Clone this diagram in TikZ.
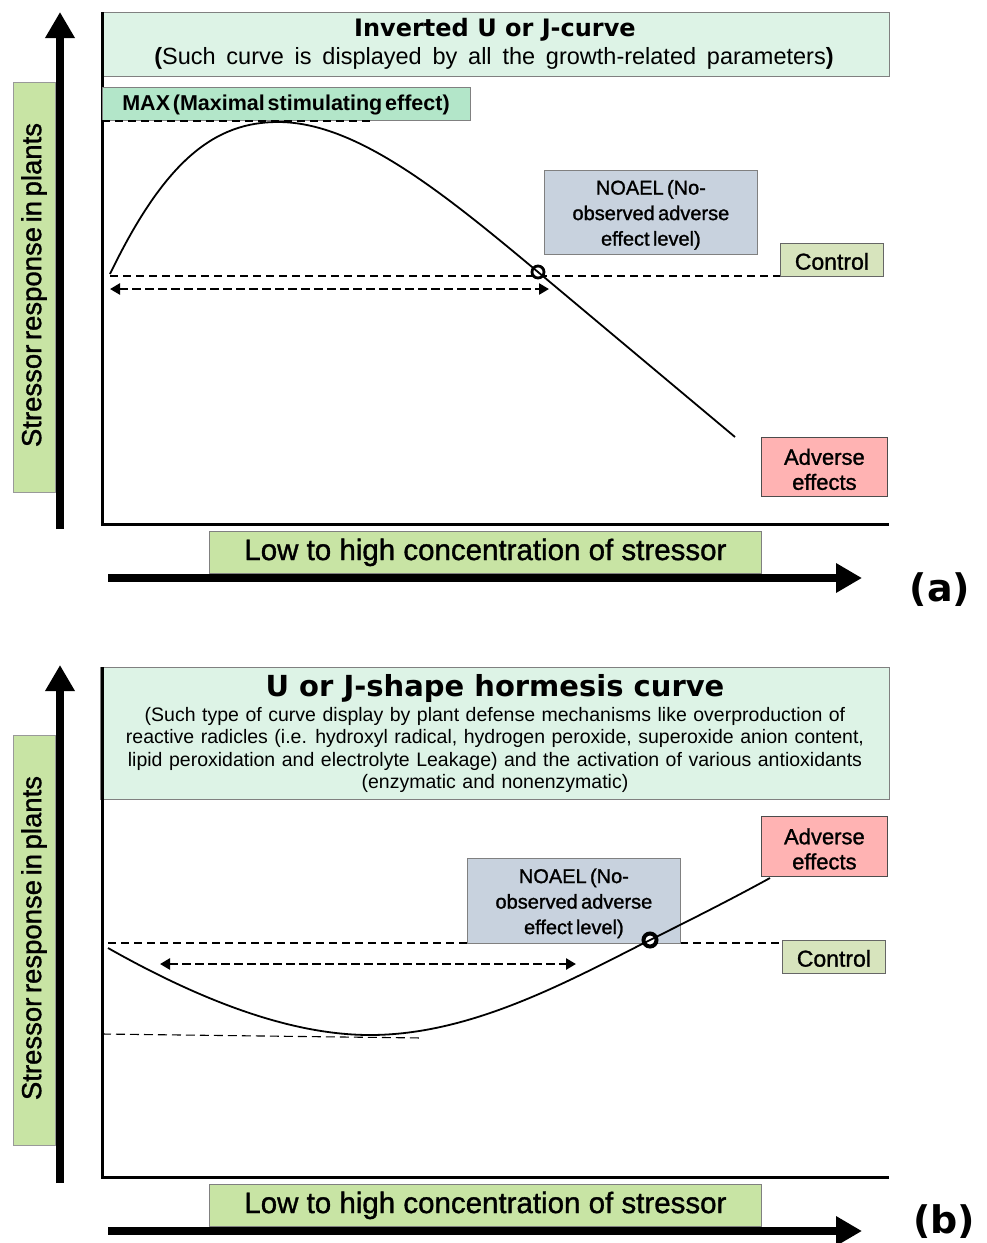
\documentclass[tikz,border=0pt]{standalone}
\usepackage{fontspec}
\setmainfont{Liberation Sans}
\newfontfamily\lblfont[FakeBold=1.2]{Liberation Sans}
\newfontfamily\heavyfont{DejaVu Sans}
\newcommand\setsp[1]{\spaceskip=#1em\relax}
\newcommand\spTight{\setsp{0.167}}
\newcommand\spMax{\setsp{0.13}}
\newcommand\spWide{\setsp{0.46}}
\newcommand\spBody{\setsp{0.335}}
\usetikzlibrary{arrows.meta}
\definecolor{titlefill}{HTML}{DDF3E6}
\definecolor{maxfill}{HTML}{B3E6C9}
\definecolor{axisgreen}{HTML}{C8E4A4}
\definecolor{ctrlfill}{HTML}{D7E4BD}
\definecolor{noaelfill}{HTML}{C8D2DE}
\definecolor{advfill}{HTML}{FFB3B3}
\tikzset{
  box/.style={draw=black!70, line width=0.8pt, anchor=north west, inner sep=0pt, align=center},
  boxtext/.style={align=center, inner sep=0pt, yshift=-2.5pt},
  bigarrow/.style={line width=8.5pt, -{Triangle[width=28pt,length=26pt]}},
  axisline/.style={line width=3pt},
  ctrldash/.style={line width=1.6pt, dash pattern=on 8pt off 5pt},
  rangearrow/.style={line width=2.8pt, dash pattern=on 9pt off 4pt, {Triangle[width=11pt,length=10pt]}-{Triangle[width=11pt,length=10pt]}},
  curve/.style={line width=1.8pt},
  dotA/.style={circle, draw=black, line width=2.8pt, fill=white, minimum size=12pt, inner sep=0pt},
  dotB/.style={circle, draw=black, line width=4pt, fill=white, minimum size=13pt, inner sep=0pt},
  noaelfont/.style={font=\lblfont\fontsize{20}{25.5}\selectfont\spTight},
  ctrlfont/.style={font=\lblfont\fontsize{23}{25}\selectfont},
  advfont/.style={font=\lblfont\fontsize{22}{25}\selectfont},
  xlabfont/.style={font=\lblfont\fontsize{29.5}{31}\selectfont},
  ylabfont/.style={font=\lblfont\fontsize{27.5}{30}\selectfont\spTight},
  maxlabfont/.style={font=\bfseries\fontsize{21.5}{24}\selectfont\spMax},
  subAfont/.style={font=\fontsize{23.5}{26}\selectfont\spWide},
  bodyfont/.style={font=\fontsize{19.5}{22.4}\selectfont\spBody},
  panelfont/.style={font=\heavyfont\bfseries\fontsize{38}{40}\selectfont},
}
\begin{document}
\begin{tikzpicture}[x=1pt,y=-1pt]
\useasboundingbox (0,0) rectangle (986,1243);

%%%%%%%%%%%%%%%% Panel (a) %%%%%%%%%%%%%%%%
% y-axis label
\node[box, fill=axisgreen, draw=black!40, minimum width=42pt, minimum height=410pt] (ylabA) at (13,82) {};
\node[rotate=90, ylabfont] (yltA) at (34,285) {Stressor response in plants};
\coordinate (yA0) at (60,529);
\coordinate (yA1) at (60,12);
\draw[bigarrow] (yA0) -- (yA1);

% title box
\node[box, fill=titlefill, draw=black!50, minimum width=787pt, minimum height=64pt] (titleA) at (102,12) {};
\node[font=\heavyfont\bfseries\fontsize{24}{26}\selectfont] (titleAt) at (495,30) {Inverted U or J-curve};
\node[subAfont] (subA) at (494,58) {\textbf{(}Such curve is displayed by all the growth-related parameters\textbf{)}};

% axes
\coordinate (oA) at (102,524);
\coordinate (topA) at (102,12);
\coordinate (xendA) at (889,524);
\draw[axisline] (topA) -- (oA) -- (xendA);

% MAX box
\node[box, fill=maxfill, draw=black!50, minimum width=368pt, minimum height=33pt] (maxbox) at (102,87) {};
\node[maxlabfont] (maxt) at (286,105) {MAX (Maximal stimulating effect)};
\coordinate (maxl) at (102,121);
\coordinate (maxr) at (370,121);
\draw[ctrldash] (maxl) -- (maxr);

% control line and range arrow
\coordinate (cA0) at (110,276);
\coordinate (cA1) at (830,276);
\draw[ctrldash] (cA0) -- (cA1);
\node[box, fill=ctrlfill, draw=black!60, minimum width=103pt, minimum height=33pt] (ctrlA) at (780,243) {};
\node[boxtext, ctrlfont, yshift=1pt] (ctrlAt) at (ctrlA.center) {Control};
\coordinate (rA0) at (110,289);
\coordinate (rA1) at (549,289);
\draw[rangearrow] (rA0) -- (rA1);

% NOAEL box
\node[box, fill=noaelfill, draw=black!50, minimum width=213pt, minimum height=84pt] (noaelA) at (544,170) {};
\node[boxtext, noaelfont] (noaelAt) at (noaelA.center) {NOAEL (No-\\observed adverse\\effect level)};

% curve
\coordinate (sA) at (110,274);
\coordinate (pA) at (278,122);
\coordinate (nA) at (538,272);
\coordinate (eA) at (735,437);
\node[dotA] (dotA) at (nA) {};
\draw[curve] (sA) .. controls (165,160) and (215,122) .. (pA)
  .. controls (355,122) and (440,190) .. (dotA.center) -- (eA);

% Adverse box
\node[box, fill=advfill, draw=black!70, minimum width=126pt, minimum height=59pt] (advA) at (761,437) {};
\node[boxtext, advfont] (advAt) at (advA.center) {Adverse\\effects};

% x label + arrow
\node[box, fill=axisgreen, draw=black!50, minimum width=552pt, minimum height=42pt, xlabfont] (xlabA) at (209,531) {Low to high concentration of stressor};
\coordinate (xA0) at (108,578);
\coordinate (xA1) at (862,578);
\draw[bigarrow] (xA0) -- (xA1);
\node[panelfont] (labA) at (940,590) {(a)};

%%%%%%%%%%%%%%%% Panel (b) %%%%%%%%%%%%%%%%
\node[box, fill=axisgreen, draw=black!40, minimum width=42pt, minimum height=410pt] (ylabB) at (13,735) {};
\node[rotate=90, ylabfont] (yltB) at (34,938) {Stressor response in plants};
\coordinate (yB0) at (60,1183);
\coordinate (yB1) at (60,665);
\draw[bigarrow] (yB0) -- (yB1);

\node[box, fill=titlefill, draw=black!50, minimum width=789pt, minimum height=132pt] (titleB) at (100,667) {};
\node[font=\heavyfont\bfseries\fontsize{29}{31}\selectfont] (titleBt) at (495,688) {U or J-shape hormesis curve};
\node[bodyfont, align=center] (subB) at (495,750) {(Such type of curve display by plant defense mechanisms like overproduction of\\reactive radicles (i.e. hydroxyl radical, hydrogen peroxide, superoxide anion content,\\lipid peroxidation and electrolyte Leakage) and the activation of various antioxidants\\(enzymatic and nonenzymatic)};

\coordinate (oB) at (102,1177);
\coordinate (topB) at (102,667);
\coordinate (xendB) at (889,1177);
\draw[axisline] (topB) -- (oB) -- (xendB);

% control line
\coordinate (cB0) at (108,943);
\coordinate (cB1) at (782,943);
\draw[ctrldash] (cB0) -- (cB1);
\node[box, fill=ctrlfill, draw=black!60, minimum width=103pt, minimum height=33pt] (ctrlB) at (782,940) {};
\node[boxtext, ctrlfont, yshift=1pt] (ctrlBt) at (ctrlB.center) {Control};
\coordinate (rB0) at (160,964);
\coordinate (rB1) at (576,964);
\draw[rangearrow] (rB0) -- (rB1);

% min dashed line
\coordinate (mB0) at (102,1034);
\coordinate (mB1) at (423,1038);
\draw[line width=1.1pt, dash pattern=on 9pt off 5pt] (mB0) -- (mB1);

% NOAEL box
\node[box, fill=noaelfill, draw=black!50, minimum width=213pt, minimum height=85pt] (noaelB) at (467,858) {};
\node[boxtext, noaelfont] (noaelBt) at (noaelB.center) {NOAEL (No-\\observed adverse\\effect level)};

% curve
\coordinate (sB) at (108,948);
\coordinate (mB) at (370,1035);
\coordinate (nB) at (650,940);
\coordinate (eB) at (770,878);
\node[dotB] (dotB) at (nB) {};
\draw[curve] (sB) .. controls (200,1000) and (290,1035) .. (mB)
  .. controls (470,1035) and (565,983) .. (dotB.center)
  .. controls (690,920) and (730,900) .. (eB);

\node[box, fill=advfill, draw=black!70, minimum width=126pt, minimum height=60pt] (advB) at (761,816) {};
\node[boxtext, advfont] (advBt) at (advB.center) {Adverse\\effects};

\node[box, fill=axisgreen, draw=black!50, minimum width=552pt, minimum height=42pt, xlabfont] (xlabB) at (209,1184) {Low to high concentration of stressor};
\coordinate (xB0) at (108,1231);
\coordinate (xB1) at (862,1231);
\draw[bigarrow] (xB0) -- (xB1);
\node[panelfont] (labB) at (944,1222) {(b)};
\end{tikzpicture}
\end{document}
